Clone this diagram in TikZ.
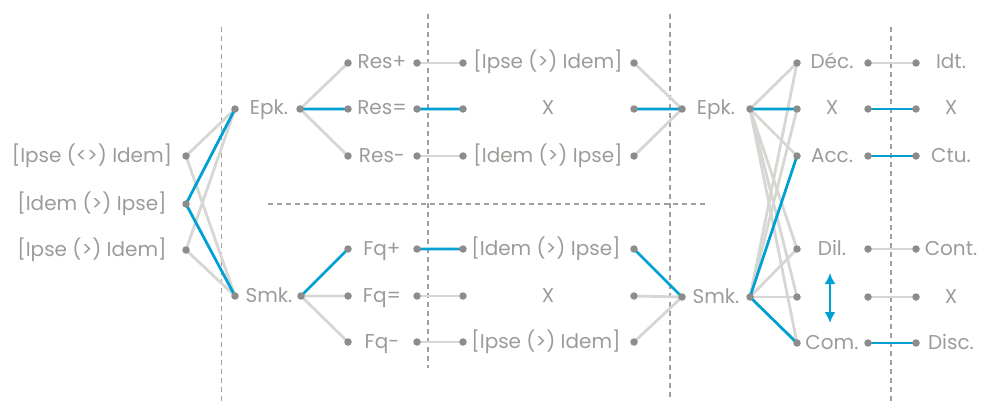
\documentclass[tikz,border=0pt]{standalone}
\usepackage{fontspec}
\setmainfont{Poppins}
\usetikzlibrary{arrows.meta}
\definecolor{txtgray}{RGB}{155,155,152}
\definecolor{dotgray}{RGB}{140,140,138}
\definecolor{linegray}{RGB}{214,214,210}
\definecolor{dashgray}{RGB}{160,160,160}
\definecolor{linkblue}{RGB}{0,160,210}
\begin{document}
\begin{tikzpicture}[x=1pt,y=-1pt,
txt/.style={text=txtgray, font=\fontsize{20}{20}\selectfont, inner sep=0pt, anchor=base, yshift=-6pt},
dot/.style={circle, fill=dotgray, inner sep=0pt, minimum size=7.5pt},
gline/.style={draw=linegray, line width=2.8pt},
bline/.style={draw=linkblue, line width=2.8pt},
sepline/.style={draw=dashgray, line width=1.4pt, dash pattern=on 5pt off 4pt},
]
\useasboundingbox (0,0) rectangle (982,401);
% separators
\draw[sepline] (221.5,27) coordinate (s1a) -- (221.5,401) coordinate (s1b);
\draw[sepline] (428,14) coordinate (s2a) -- (428,368) coordinate (s2b);
\draw[sepline] (670,14) coordinate (s3a) -- (670,398) coordinate (s3b);
\draw[sepline] (891,27) coordinate (s4a) -- (891,401) coordinate (s4b);
\draw[sepline] (268,204) coordinate (h1a) -- (707,204) coordinate (h1b);
% points
\foreach \i/\y in {1/156,2/204,3/250} \coordinate (l\i) at (186,\y);
\coordinate (ea) at (235,109); \coordinate (eb) at (300,109);
\coordinate (sa) at (235,296); \coordinate (sb) at (301,296);
\foreach \i/\y in {1/63,2/109,3/156} {
  \coordinate (ra\i) at (348,\y); \coordinate (rb\i) at (417,\y);
  \coordinate (rc\i) at (463,\y); \coordinate (rd\i) at (634,\y);
}
\foreach \i/\y in {1/249,2/296,3/342} {
  \coordinate (fa\i) at (348,\y); \coordinate (fb\i) at (417,\y);
  \coordinate (fc\i) at (463,\y); \coordinate (fd\i) at (634,\y);
}
\coordinate (ec) at (682,109); \coordinate (ed) at (750,109);
\coordinate (sc) at (682,297); \coordinate (sd) at (750,297);
\foreach \i/\y in {1/63,2/109,3/156,4/249,5/297,6/343} {
  \coordinate (ma\i) at (797,\y); \coordinate (mb\i) at (868,\y);
  \coordinate (mc\i) at (916,\y);
}
% grey links
\draw[gline] (l1) -- (ea) (l1) -- (sa) (l3) -- (ea) (l3) -- (sa);
\draw[gline] (eb) -- (ra1) (eb) -- (ra3) (sb) -- (fa2) (sb) -- (fa3);
\draw[gline] (rb1) -- (rc1) (rb3) -- (rc3) (fb2) -- (fc2) (fb3) -- (fc3);
\draw[gline] (rd1) -- (ec) (rd3) -- (ec) (fd2) -- (sc) (fd3) -- (sc);
\foreach \i in {1,3,4,5,6} \draw[gline] (ed) -- (ma\i);
\foreach \i in {1,2,4,5} \draw[gline] (sd) -- (ma\i);
\foreach \i in {1,4,5} \draw[gline] (mb\i) -- (mc\i);
% blue links
\draw[bline] (ea) -- (l2) -- (sa);
\draw[bline] (eb) -- (ra2) (sb) -- (fa1) (rb2) -- (rc2) (fb1) -- (fc1);
\draw[bline] (rd2) -- (ec) (fd1) -- (sc);
\draw[bline] (ed) -- (ma2) (sd) -- (ma3) (sd) -- (ma6);
\foreach \i in {2,3,6} \draw[bline] (mb\i) -- (mc\i);
\coordinate (arrA) at (830,273); \coordinate (arrB) at (830,323);
\draw[linkblue, line width=2.4pt, {Latex[length=11pt,width=11pt]}-{Latex[length=11pt,width=11pt]}] (arrA) -- (arrB);
% dots
\foreach \p in {l1,l2,l3,ea,eb,sa,sb,ec,ed,sc,sd}
  \node[dot] (d-\p) at (\p) {};
\foreach \c in {ra,rb,rc,rd,fa,fb,fc,fd}
  \foreach \i in {1,2,3} \node[dot] (d-\c\i) at (\c\i) {};
\foreach \c in {ma,mb,mc}
  \foreach \i in {1,...,6} \node[dot] (d-\c\i) at (\c\i) {};
% labels
\node[txt] (t-l1) at (92,156) {[Ipse (<>) Idem]};
\node[txt] (t-l2) at (92,204) {[Idem (>) Ipse]};
\node[txt] (t-l3) at (92,250) {[Ipse (>) Idem]};
\node[txt] (t-epk) at (269,109) {Epk.};
\node[txt] (t-smk) at (269,296) {Smk.};
\node[txt] (t-r1) at (382,63) {Res+};
\node[txt] (t-r2) at (382,109) {Res=};
\node[txt] (t-r3) at (382,156) {Res-};
\node[txt] (t-f1) at (382,249) {Fq+};
\node[txt] (t-f2) at (382,296) {Fq=};
\node[txt] (t-f3) at (382,342) {Fq-};
\node[txt] (t-o1) at (548,63) {[Ipse (>) Idem]};
\node[txt] (t-o2) at (548,109) {X};
\node[txt] (t-o3) at (548,156) {[Idem (>) Ipse]};
\node[txt] (t-o4) at (546,249) {[Idem (>) Ipse]};
\node[txt] (t-o5) at (548,296) {X};
\node[txt] (t-o6) at (546,342) {[Ipse (>) Idem]};
\node[txt] (t-epk2) at (716,109) {Epk.};
\node[txt] (t-smk2) at (716,297) {Smk.};
\node[txt] (t-m1) at (832,63) {Déc.};
\node[txt] (t-m2) at (832,109) {X};
\node[txt] (t-m3) at (832,156) {Acc.};
\node[txt] (t-m4) at (832,249) {Dil.};
\node[txt] (t-m6) at (832,343) {Com.};
\node[txt] (t-n1) at (951,63) {Idt.};
\node[txt] (t-n2) at (951,109) {X};
\node[txt] (t-n3) at (951,156) {Ctu.};
\node[txt] (t-n4) at (951,249) {Cont.};
\node[txt] (t-n5) at (951,297) {X};
\node[txt] (t-n6) at (951,343) {Disc.};
\end{tikzpicture}
\end{document}
